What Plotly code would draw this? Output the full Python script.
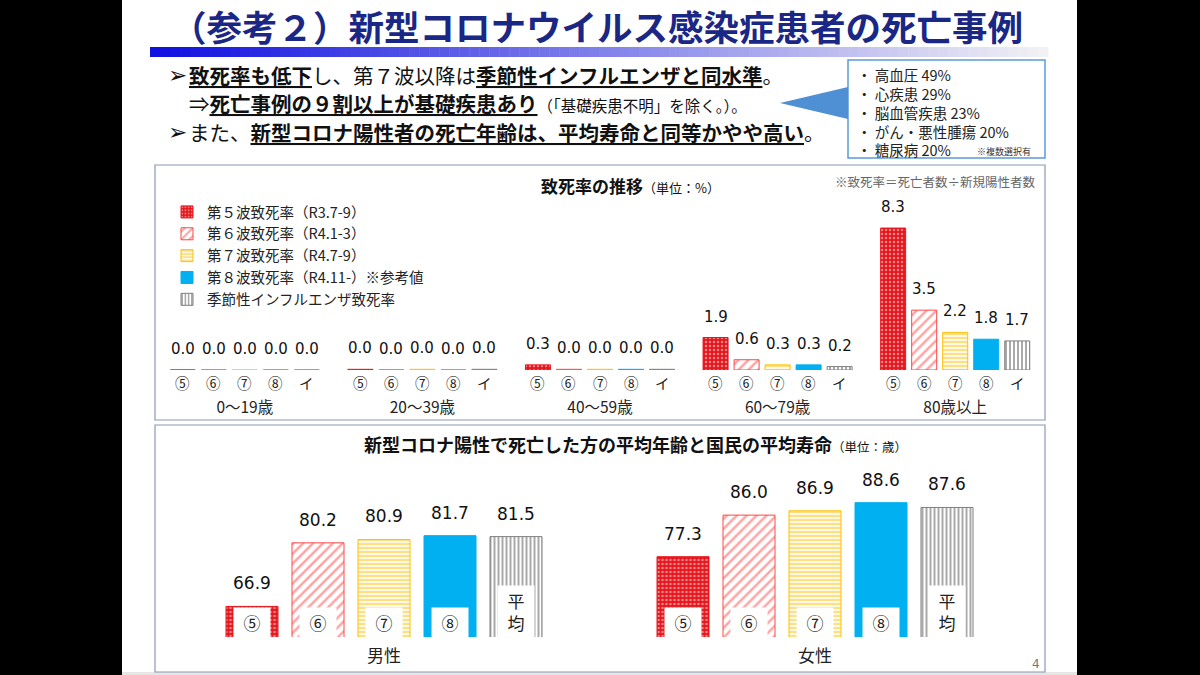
import plotly.graph_objects as go

W, H = 1200, 675


def px(x):
    return x / W


def py(y):
    return 1 - y / H


# 致死率の推移 (%)
age_groups = ["0～19歳", "20～39歳", "40～59歳", "60～79歳", "80歳以上"]
wave_names = ["第５波致死率（R3.7-9）", "第６波致死率（R4.1-3）", "第７波致死率（R4.7-9）",
              "第８波致死率（R4.11-）※参考値", "季節性インフルエンザ致死率"]
wave_marks = ["⑤", "⑥", "⑦", "⑧", "イ"]
# tiny non-zero values show as a hairline in the original, label still reads 0.0
rate_w5 = [0.0, 0.04, 0.3, 1.9, 8.3]
rate_w6 = [0.0, 0.0, 0.04, 0.6, 3.5]
rate_w7 = [0.0, 0.04, 0.04, 0.3, 2.2]
rate_w8 = [0.0, 0.0, 0.04, 0.3, 1.8]
rate_flu = [0.0, 0.04, 0.04, 0.2, 1.7]

# 死亡した方の平均年齢と平均寿命 (歳)
sexes = ["男性", "女性"]
age_marks = ["⑤", "⑥", "⑦", "⑧", "平<br>均"]
age_w5 = [66.9, 77.3]
age_w6 = [80.2, 86.0]
age_w7 = [80.9, 86.9]
age_w8 = [81.7, 88.6]
life_exp = [81.5, 87.6]

# 基礎疾患
conditions = ["高血圧", "心疾患", "脳血管疾患", "がん・悪性腫瘍", "糖尿病"]
condition_pct = [49, 29, 23, 20, 20]

JP = "Noto Sans CJK JP"
NUM = "DejaVu Sans"
RED = "#e8141b"

styles = [
    dict(color=RED, pattern=dict(shape=".", bgcolor=RED, fgcolor="white", size=4, solidity=0.3),
         line=dict(color=RED, width=1)),
    dict(color="#ff4646", pattern=dict(shape="/", bgcolor="white", fgcolor="#ff4646", size=7, solidity=0.35),
         line=dict(color="#ff4646", width=1)),
    dict(color="#ffc000", pattern=dict(shape="-", bgcolor="white", fgcolor="#ffc000", size=4, solidity=0.6),
         line=dict(color="#ffc000", width=1)),
    dict(color="#00b0f0", line=dict(color="#00b0f0", width=1)),
    dict(color="#404040", pattern=dict(shape="|", bgcolor="white", fgcolor="#404040", size=4, solidity=0.45),
         line=dict(color="#7f7f7f", width=1)),
]


def note(x, y, text, size, color="#222", family=JP, xanchor="center", yanchor="middle", **kw):
    return dict(x=px(x), y=py(y), xref="paper", yref="paper", text=text, showarrow=False,
                xanchor=xanchor, yanchor=yanchor, font=dict(family=family, size=size, color=color), **kw)


fig = go.Figure()
ann = []

# top chart: category = 177.5px, bar slot 31px, bar 25px
slot1 = 31 / 177.5
bw1 = 25 / 177.5
rates = [rate_w5, rate_w6, rate_w7, rate_w8, rate_flu]
for i, vals in enumerate(rates):
    fig.add_bar(x=age_groups, y=vals, name=wave_names[i], width=bw1,
                offset=(i - 2) * slot1 - bw1 / 2, marker=styles[i],
                xaxis="x", yaxis="y", hoverinfo="skip")
    for j, v in enumerate(vals):
        xc = j + (i - 2) * slot1
        ann.append(dict(x=xc, y=v, xref="x", yref="y", text=f"{v:.1f}", showarrow=False,
                        yshift=21, xanchor="center", yanchor="middle",
                        font=dict(family=NUM, size=15, color="#111")))
        ann.append(dict(x=xc, y=0, xref="x", yref="y", text=wave_marks[i], showarrow=False,
                        yshift=-12, xanchor="center", yanchor="middle",
                        font=dict(family=JP, size=14.5, color="#222")))

# bottom chart: category = 431px, slot 66px, bar 52px
slot2 = 66 / 431
bw2 = 52 / 431
ages = [age_w5, age_w6, age_w7, age_w8, life_exp]
for i, vals in enumerate(ages):
    fig.add_bar(x=sexes, y=vals, width=bw2, offset=(i - 2) * slot2 - bw2 / 2,
                marker=styles[i], xaxis="x2", yaxis="y2", showlegend=False, hoverinfo="skip")
    for j, v in enumerate(vals):
        xc = j + (i - 2) * slot2
        ann.append(dict(x=xc, y=v, xref="x2", yref="y2", text=f"{v:.1f}", showarrow=False,
                        yshift=23, xanchor="center", yanchor="middle",
                        font=dict(family=NUM, size=17, color="#111")))
        ann.append(dict(x=xc, y=py(638), xref="x2", yref="paper", text=age_marks[i], showarrow=False,
                        xanchor="center", yanchor="bottom", bgcolor="white", borderpad=0, width=36,
                        height=51 if i == 4 else 29, font=dict(family=JP, size=17, color="#222")))

# title & bullets
ann.append(note(597, 26, "<b>（参考２）新型コロナウイルス感染症患者の死亡事例</b>", 35.5, color="#1a2785"))
for yy in (75, 132):
    ann.append(note(166, yy, "➢", 23, color="#111", family="DejaVu Sans", xanchor="left"))
bullets = [
    (75, "<u><b>致死率も低下</b></u>し、第７波以降は<u><b>季節性インフルエンザと同水準</b></u>。"),
    (103, "⇒<u><b>死亡事例の９割以上が基礎疾患あり</b></u>"
          "<span style='font-size:15.5px'>（「基礎疾患不明」を除く。）。</span>"),
    (132, "また、<u><b>新型コロナ陽性者の死亡年齢は、平均寿命と同等かやや高い</b></u>。"),
]
for yy, t in bullets:
    ann.append(note(187, yy, t, 20.5, color="#111", xanchor="left"))

callout = "<br>".join(f"・ {c} {p}%" for c, p in zip(conditions, condition_pct))
ann.append(note(855, 62, callout, 14.5, xanchor="left", yanchor="top", align="left"))
ann.append(note(975, 151, "※複数選択有", 9, color="#333", xanchor="left"))

# chart titles / notes
ann.append(note(630, 185, "<b>致死率の推移</b><span style='font-size:13px'>（単位：%）</span>", 17, color="#111"))
ann.append(note(1038, 181, "※致死率＝死亡者数÷新規陽性者数", 12.5, color="#666", xanchor="right"))
ann.append(note(635, 444, "<b>新型コロナ陽性で死亡した方の平均年齢と国民の平均寿命</b>"
                          "<span style='font-size:12.5px'>（単位：歳）</span>", 18, color="#111"))
ann.append(note(1036, 664, "4", 12, color="#777", family=NUM))

shapes = []
# black letterbox
shapes.append(dict(type="rect", xref="paper", yref="paper", x0=0, x1=px(122), y0=0, y1=1,
                   fillcolor="black", line_width=0))
shapes.append(dict(type="rect", xref="paper", yref="paper", x0=px(1077), x1=1, y0=0, y1=1,
                   fillcolor="black", line_width=0))
shapes.append(dict(type="rect", xref="paper", yref="paper", x0=px(122), x1=px(1077), y0=0, y1=py(672),
                   fillcolor="#e6e6e6", line_width=0))
# gradient bar under the title
n = 90
for k in range(n):
    t = k / (n - 1)
    r = int(16 + (242 - 16) * t)
    g = int(16 + (242 - 16) * t)
    b = int(225 + (245 - 225) * t)
    x0 = 150 + (1048 - 150) * k / n
    x1 = 150 + (1048 - 150) * (k + 1) / n + 0.5
    shapes.append(dict(type="rect", xref="paper", yref="paper", x0=px(x0), x1=px(x1),
                       y0=py(57), y1=py(47), fillcolor=f"rgb({r},{g},{b})", line_width=0))
# boxes
shapes.append(dict(type="rect", xref="paper", yref="paper", x0=px(848), x1=px(1045), y0=py(158), y1=py(60),
                   line=dict(color="#5b9bd5", width=1.5)))
shapes.append(dict(type="path", xref="paper", yref="paper",
                   path=f"M {px(780)},{py(103)} L {px(848)},{py(87)} L {px(848)},{py(119)} Z",
                   fillcolor="#4f8fd3", line_width=0))
for y0, y1 in ((165, 420), (425, 672)):
    shapes.append(dict(type="rect", xref="paper", yref="paper", x0=px(155), x1=px(1045),
                       y0=py(y1), y1=py(y0), line=dict(color="#8a99b5", width=1.2)))

fig.update_layout(
    width=W, height=H, margin=dict(l=0, r=0, t=0, b=0),
    paper_bgcolor="white", plot_bgcolor="rgba(0,0,0,0)",
    barmode="overlay",
    font=dict(family=JP, color="#222"),
    xaxis=dict(domain=[px(156), px(1044)], range=[-0.5, 4.5], type="category", showgrid=False,
               zeroline=False, showline=False, ticks="", ticklabelstandoff=26,
               tickfont=dict(family=JP, size=15.5, color="#222"), anchor="y"),
    yaxis=dict(domain=[py(370), py(200)], range=[0, 170 / 17.1], visible=False, anchor="x"),
    xaxis2=dict(domain=[px(168.5), px(1030.5)], range=[-0.5, 1.5], type="category", showgrid=False,
                zeroline=False, showline=False, ticks="", ticklabelstandoff=7,
                tickfont=dict(family=JP, size=17, color="#222"), anchor="y2"),
    yaxis2=dict(domain=[py(637), py(470)], range=[60.5, 60.5 + 167 / 4.78], visible=False, anchor="x2"),
    legend=dict(x=px(167), y=py(196), xanchor="left", yanchor="top", bgcolor="rgba(0,0,0,0)",
                font=dict(family=JP, size=14.5, color="#222"), tracegroupgap=0, itemclick=False),
    annotations=ann, shapes=shapes,
)

fig.write_html("out.html", config={"displayModeBar": False},
               post_script="document.body.style.margin='0';document.body.style.overflow='hidden';")
